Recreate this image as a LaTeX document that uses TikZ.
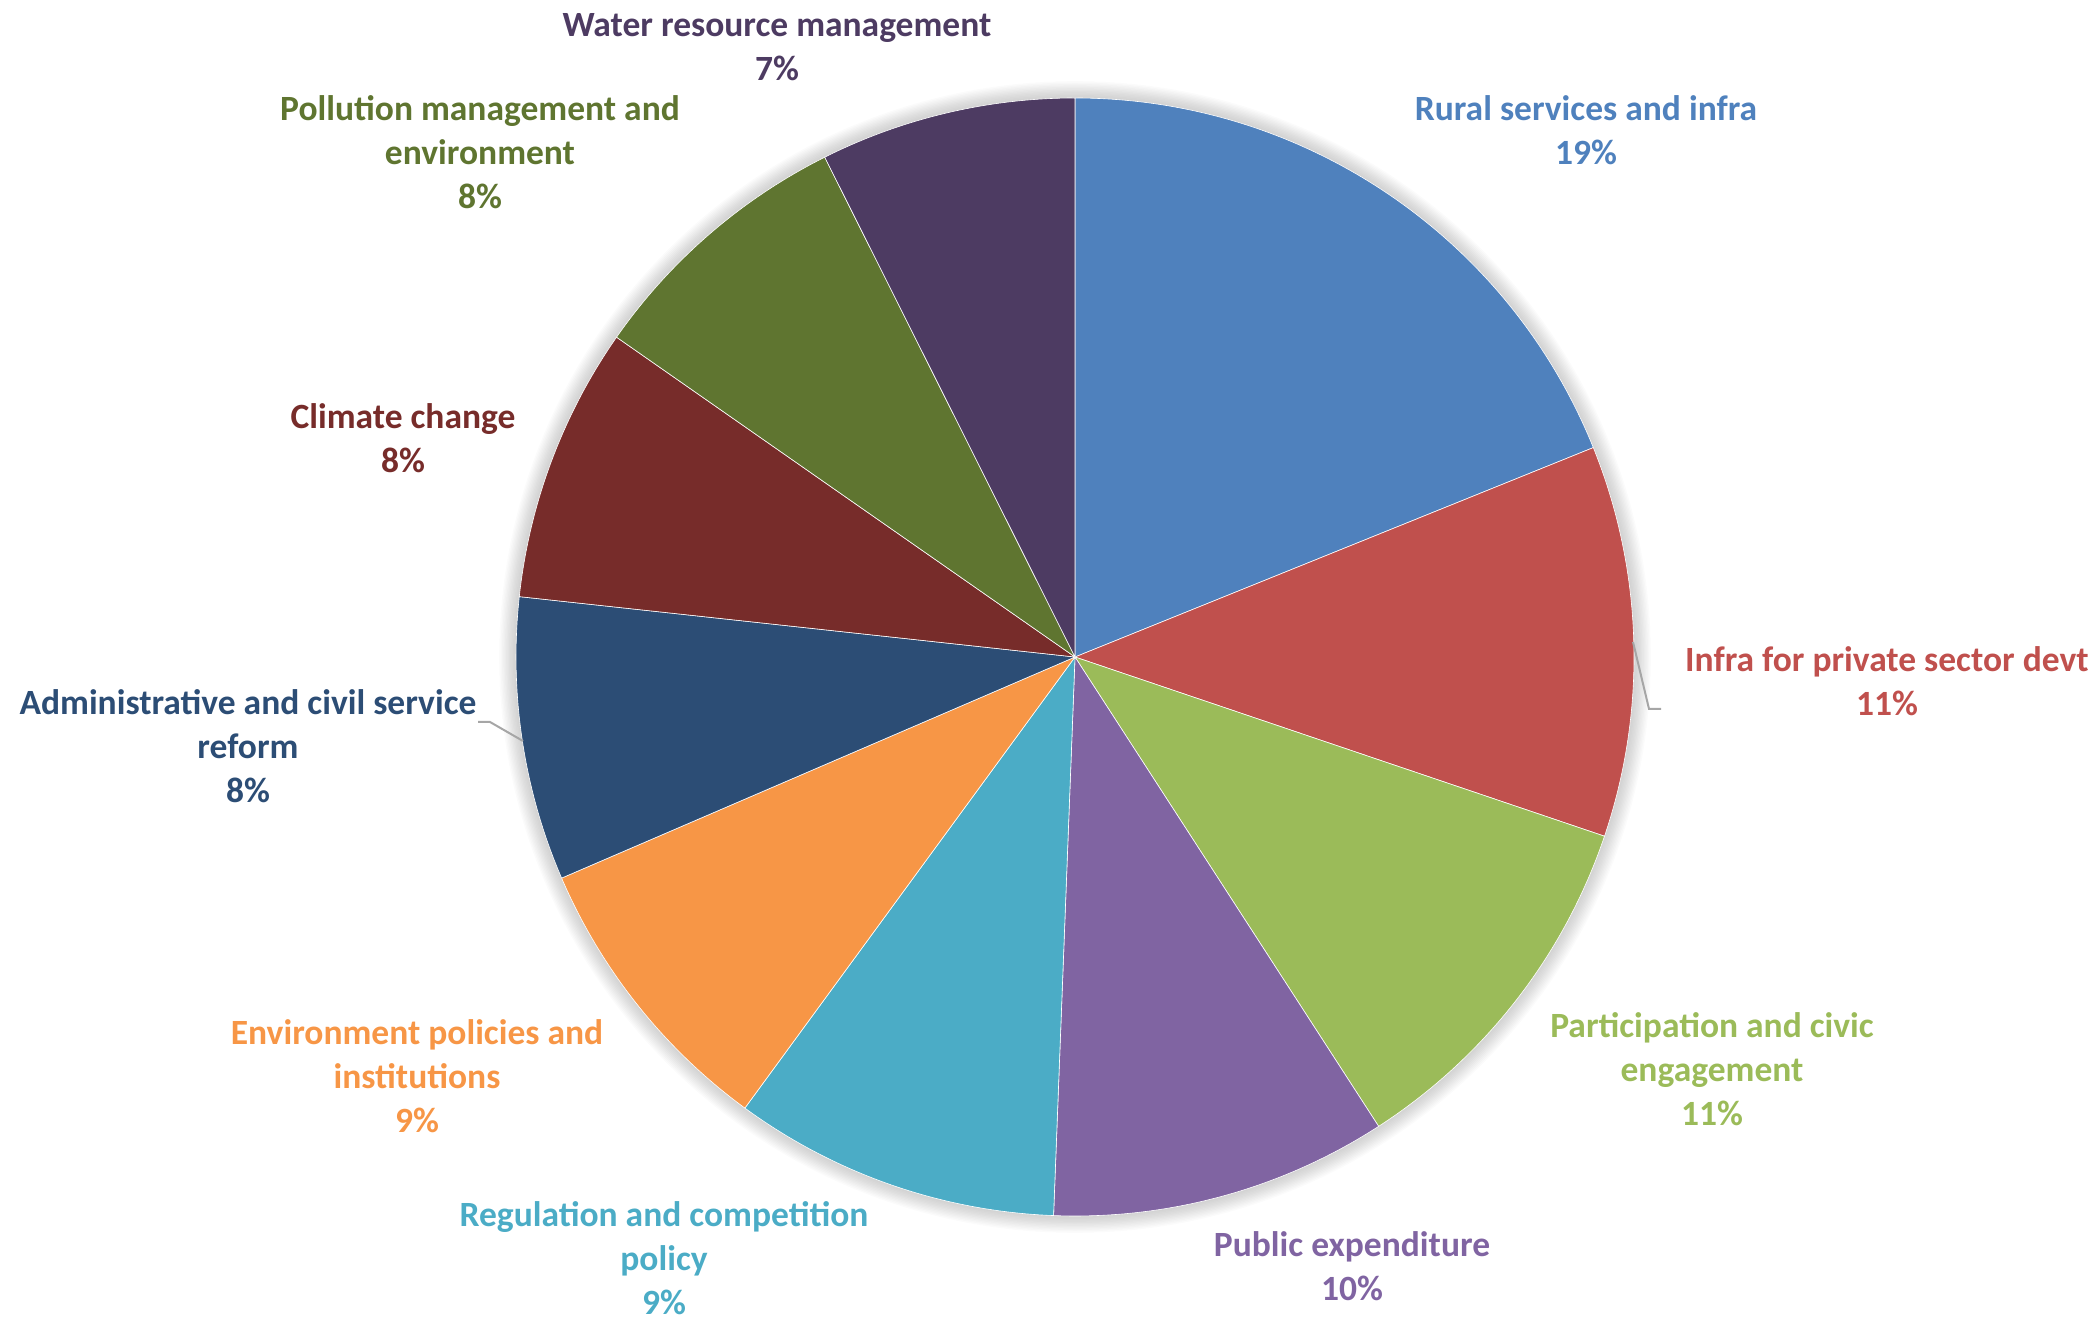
\documentclass[tikz,border=0pt]{standalone}
\usepackage{fontspec}
\setmainfont{Carlito}
\definecolor{cRural}{HTML}{4F81BD}
\definecolor{cInfra}{HTML}{C0504D}
\definecolor{cPart}{HTML}{9BBB59}
\definecolor{cPublic}{HTML}{8064A2}
\definecolor{cReg}{HTML}{4BACC6}
\definecolor{cEnv}{HTML}{F79646}
\definecolor{cAdmin}{HTML}{2C4D75}
\definecolor{cClimate}{HTML}{772C2A}
\definecolor{cPoll}{HTML}{5F7530}
\definecolor{cWater}{HTML}{4D3B62}
\definecolor{cLeader}{HTML}{A6A6A6}
\begin{document}
\begin{tikzpicture}[x=0.5pt,y=0.5pt,
  lbl/.style={font=\fontsize{17.75}{22}\selectfont\bfseries, align=center, inner sep=0pt},
  slice/.style={draw=white, line width=0.3pt, line join=round},
  leader/.style={draw=cLeader, line width=1pt}]
\useasboundingbox (0,0) rectangle (2097,1318);
\coordinate (c) at (1075,661);
% soft glow around the pie
\foreach \k in {1,...,12} {
  \fill[black, opacity=0.016] (c) circle[radius=559+\k*1.4];
}
% slices (start angle, end angle)
\path[slice, fill=cRural]   (c) -- ++(22:559)     arc[start angle=22,     end angle=90,     radius=559] -- cycle;
\path[slice, fill=cInfra]   (c) -- ++(-18.7:559)  arc[start angle=-18.7,  end angle=22,     radius=559] -- cycle;
\path[slice, fill=cPart]    (c) -- ++(-57.1:559)  arc[start angle=-57.1,  end angle=-18.7,  radius=559] -- cycle;
\path[slice, fill=cPublic]  (c) -- ++(-92.2:559)  arc[start angle=-92.2,  end angle=-57.1,  radius=559] -- cycle;
\path[slice, fill=cReg]     (c) -- ++(-126.2:559) arc[start angle=-126.2, end angle=-92.2,  radius=559] -- cycle;
\path[slice, fill=cEnv]     (c) -- ++(-156.7:559) arc[start angle=-156.7, end angle=-126.2, radius=559] -- cycle;
\path[slice, fill=cAdmin]   (c) -- ++(-186.2:559) arc[start angle=-186.2, end angle=-156.7, radius=559] -- cycle;
\path[slice, fill=cClimate] (c) -- ++(-214.9:559) arc[start angle=-214.9, end angle=-186.2, radius=559] -- cycle;
\path[slice, fill=cPoll]    (c) -- ++(-243.4:559) arc[start angle=-243.4, end angle=-214.9, radius=559] -- cycle;
\path[slice, fill=cWater]   (c) -- ++(-270:559)   arc[start angle=-270,   end angle=-243.4, radius=559] -- cycle;
% labels
\node[lbl, text=cRural]   (lRural)   at (1586,1188) {Rural services and infra\\19\%};
\node[lbl, text=cInfra]   (lInfra)   at (1887,637)  {Infra for private sector devt\\11\%};
\node[lbl, text=cPart]    (lPart)    at (1712,249)  {Participation and civic\\engagement\\11\%};
\node[lbl, text=cPublic]  (lPublic)  at (1352,52)   {Public expenditure\\10\%};
\node[lbl, text=cReg]     (lReg)     at (664,60)    {Regulation and competition\\policy\\9\%};
\node[lbl, text=cEnv]     (lEnv)     at (417,242)   {Environment policies and\\institutions\\9\%};
\node[lbl, text=cAdmin]   (lAdmin)   at (248,572)   {Administrative and civil service\\reform\\8\%};
\node[lbl, text=cClimate] (lClimate) at (403,880)   {Climate change\\8\%};
\node[lbl, text=cPoll]    (lPoll)    at (480,1166)  {Pollution management and\\environment\\8\%};
\node[lbl, text=cWater]   (lWater)   at (777,1271)  {Water resource management\\7\%};
% leader lines
\coordinate (infraA) at (1633,676);
\coordinate (infraB) at (1649,609);
\coordinate (infraC) at (1661,609);
\draw[leader] (infraA) -- (infraB) -- (infraC);
\coordinate (adminA) at (523,577);
\coordinate (adminB) at (490,596);
\coordinate (adminC) at (478,596);
\draw[leader] (adminA) -- (adminB) -- (adminC);
\end{tikzpicture}
\end{document}
